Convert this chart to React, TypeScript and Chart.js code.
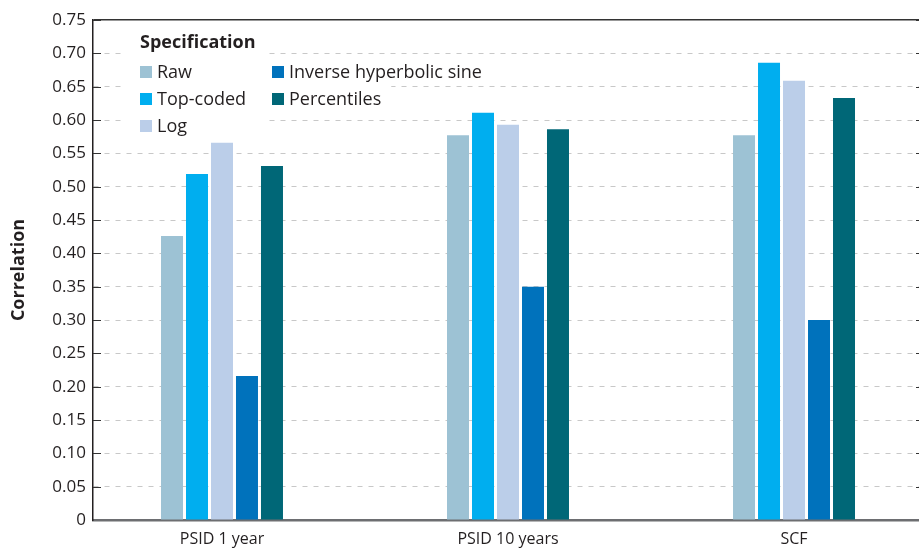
import React, { useEffect, useRef } from 'react';
import { Chart, registerables } from 'chart.js';

Chart.register(...registerables);

const categories = ['PSID 1 year', 'PSID 10 years', 'SCF'];
const seriesNames = ['Raw', 'Top-coded', 'Log', 'Inverse hyperbolic sine', 'Percentiles'];
const rawValues = [0.426, 0.577, 0.577];
const topCodedValues = [0.519, 0.611, 0.686];
const logValues = [0.566, 0.593, 0.659];
const ihsValues = [0.216, 0.350, 0.300];
const percentileValues = [0.531, 0.586, 0.633];
const seriesColors = ['#9DC2D4', '#00AEEF', '#BBCEE9', '#0072BC', '#006777'];
const yMin = 0;
const yMax = 0.75;
const yStep = 0.05;
const legendTitle = 'Specification';
const yTitle = 'Correlation';

const FONT = '"Open Sans", "Noto Sans", sans-serif';
const TEXT = '#231f20';

const legendPlugin = {
  id: 'specLegend',
  afterDraw(chart: any) {
    const { ctx, chartArea } = chart;
    const yScale = chart.scales.y;
    ctx.save();
    // inward tick marks on the y axis
    ctx.strokeStyle = '#333';
    ctx.lineWidth = 1;
    yScale.ticks.forEach((t: any) => {
      if (t.value <= 0) return;
      const py = Math.round(yScale.getPixelForValue(t.value)) + 0.5;
      ctx.beginPath();
      ctx.moveTo(chartArea.left, py);
      ctx.lineTo(chartArea.left + 8, py);
      ctx.moveTo(chartArea.right - 3, py);
      ctx.lineTo(chartArea.right, py);
      ctx.stroke();
    });

    // legend
    const x0 = chartArea.left + 47;
    const colW = 132;
    const rowH = 27;
    const titleY = chartArea.top + 23;
    const row0 = chartArea.top + 52;
    ctx.font = `bold 18px ${FONT}`;
    const tw = ctx.measureText(legendTitle).width;
    ctx.fillStyle = '#fff';
    ctx.fillRect(x0 - 15, chartArea.top + 8, tw + 25, row0 - rowH / 2 - chartArea.top - 8);
    ctx.fillStyle = TEXT;
    ctx.textBaseline = 'middle';
    ctx.textAlign = 'left';
    ctx.fillText(legendTitle, x0, titleY);

    ctx.font = `18px ${FONT}`;
    chart.data.datasets.forEach((ds: any, i: number) => {
      const col = Math.floor(i / 3);
      const row = i % 3;
      const bx = x0 + col * colW;
      const cy = row0 + row * rowH;
      const w = ctx.measureText(ds.label).width;
      ctx.fillStyle = '#fff';
      const left = col === 0 ? bx - 15 : bx - 7;
      const right = col === 0 ? x0 + colW - 7 : bx + 17 + w + 10;
      ctx.fillRect(left, cy - rowH / 2, right - left, rowH);
      ctx.fillStyle = ds.backgroundColor;
      ctx.fillRect(bx, cy - 6, 12, 12);
      ctx.fillStyle = TEXT;
      ctx.fillText(ds.label, bx + 17, cy + 1);
    });
    ctx.restore();
  },
};

export default function App() {
  const canvasRef = useRef<HTMLCanvasElement | null>(null);

  useEffect(() => {
    document.body.style.margin = '0';
    const seriesValues = [rawValues, topCodedValues, logValues, ihsValues, percentileValues];
    const datasets = seriesNames.map((name, si) => ({
      label: name,
      data: seriesValues[si].map((v, ci) => ({ x: ci, y: v })),
      backgroundColor: seriesColors[si],
      borderWidth: 0,
      categoryPercentage: 0.437,
      barPercentage: 0.88,
    }));
    const chart = new Chart(canvasRef.current as HTMLCanvasElement, {
      type: 'bar',
      data: { datasets },
      plugins: [legendPlugin],
      options: {
        animation: false,
        responsive: false,
        layout: { padding: { top: 20, right: 0, left: 0, bottom: 0 } },
        plugins: { legend: { display: false }, tooltip: { enabled: false } },
        scales: {
          x: {
            type: 'linear',
            min: -0.451,
            max: 2.437,
            offset: false,
            afterBuildTicks: (scale: any) => {
              scale.ticks = categories.map((_, i) => ({ value: i }));
            },
            afterFit: (scale: any) => {
              scale.height = 28;
            },
            grid: { display: false, offset: false },
            border: { display: true, color: '#6d6e71', width: 2.5 },
            ticks: {
              autoSkip: false,
              maxRotation: 0,
              padding: 2,
              color: TEXT,
              font: { family: FONT, size: 16 },
              callback: (v: any) => categories[Math.round(Number(v))] ?? '',
            },
          },
          y: {
            min: yMin,
            max: yMax,
            afterFit: (scale: any) => {
              scale.width = 93;
            },
            title: {
              display: true,
              text: yTitle,
              color: TEXT,
              font: { family: FONT, size: 18, weight: 'bold' },
              padding: { top: 8, bottom: 0 },
            },
            border: {
              display: true,
              color: '#231f20',
              width: 1.5,
              dash: (ctx: any) => (ctx.tick && Math.abs(ctx.tick.value - yMax) < 1e-6 ? [] : [5, 6]),
            },
            grid: {
              drawTicks: false,
              color: (ctx: any) => {
                const v = ctx.tick ? ctx.tick.value : 0;
                if (v <= 1e-9) return 'rgba(0,0,0,0)';
                if (Math.abs(v - yMax) < 1e-6) return '#333333';
                return '#c8c8c8';
              },
              lineWidth: (ctx: any) => (ctx.tick && Math.abs(ctx.tick.value - yMax) < 1e-6 ? 1.5 : 1),
            },
            ticks: {
              stepSize: yStep,
              padding: 7,
              color: TEXT,
              font: { family: FONT, size: 17 },
              callback: (v: any) => (Number(v) === 0 ? '0' : Number(v).toFixed(2)),
            },
          },
        },
      } as any,
    });
    return () => chart.destroy();
  }, []);

  return (
    <div style={{ width: 919, height: 548 }}>
      <canvas ref={canvasRef} width={919} height={548} />
    </div>
  );
}
